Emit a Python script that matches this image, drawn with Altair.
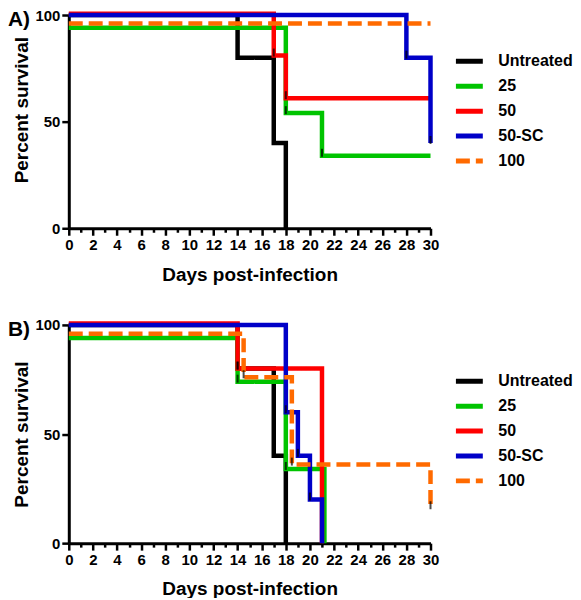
import altair as alt
import pandas as pd

groups = ["Untreated", "25", "50", "50-SC", "100"]
colors = ["#000000", "#00c400", "#ff0000", "#0000c8", "#ff6a00"]
dashes = [[1, 0], [1, 0], [1, 0], [1, 0], [14, 6]]

# Panel A) survival steps (day of change, percent survival after change)
a_untreated_day = [0, 14, 17, 18]
a_untreated_pct = [100, 80, 40, 0]
a_25_day = [0, 18, 21, 30]
a_25_pct = [94, 54, 34, 34]
a_50_day = [0, 17, 18, 30]
a_50_pct = [100.6, 81, 61, 61]
a_50sc_day = [0, 28, 30]
a_50sc_pct = [100, 80, 40]
a_100_day = [0, 30]
a_100_pct = [96, 96]

# Panel B)
b_untreated_day = [0, 14, 17, 18]
b_untreated_pct = [100, 80, 40, 0]
b_25_day = [0, 14, 18, 21.2]
b_25_pct = [94, 74, 34, 0]
b_50_day = [0, 14, 21]
b_50_pct = [100.6, 80, 0]
b_50sc_day = [0, 18, 19, 20, 21]
b_50sc_pct = [100, 60, 40, 20, 0]
b_100_day = [0, 14.5, 18.5, 30]
b_100_pct = [96, 76, 36, 16]

x_ticks = list(range(0, 31))
y_ticks = [0, 50, 100]

series = {
    "A": [("Untreated", a_untreated_day, a_untreated_pct), ("25", a_25_day, a_25_pct),
          ("50", a_50_day, a_50_pct), ("50-SC", a_50sc_day, a_50sc_pct), ("100", a_100_day, a_100_pct)],
    "B": [("Untreated", b_untreated_day, b_untreated_pct), ("25", b_25_day, b_25_pct),
          ("50", b_50_day, b_50_pct), ("50-SC", b_50sc_day, b_50sc_pct), ("100", b_100_day, b_100_pct)],
}

rows = []
for panel, lst in series.items():
    for g, days, pcts in lst:
        for i, (d, p) in enumerate(zip(days, pcts)):
            censor = i > 0 and p < pcts[i - 1] and p > 0
            rows.append({"panel": panel, "group": g, "day": d, "pct": p, "censor": censor})
df = pd.DataFrame(rows)

FONT = "Liberation Sans"


def make_panel(panel, label, height, legend_y, title_y=None):
    d = df[df.panel == panel]
    legend = alt.Legend(
        orient="none", legendX=386, legendY=legend_y, title=None,
        symbolType="stroke", symbolSize=729, symbolStrokeWidth=5,
        labelFontSize=16, labelFontWeight="bold", labelColor="black", labelFont=FONT,
        labelOffset=13, rowPadding=0, clipHeight=25,
    )
    color = alt.Color("group:N", scale=alt.Scale(domain=groups, range=colors), legend=legend)
    dash = alt.StrokeDash("group:N", scale=alt.Scale(domain=groups, range=dashes), legend=legend)
    x = alt.X(
        "day:Q", scale=alt.Scale(domain=[0, 30], nice=False),
        axis=alt.Axis(
            values=x_ticks,
            labelExpr="datum.value % 2 == 0 ? datum.label : ''",
            tickSize={"condition": {"test": "datum.value % 2 == 0", "value": 7}, "value": 4},
            tickWidth=2.5, tickColor="black", domainWidth=3, domainColor="black",
            labelFontSize=15, labelFontWeight="bold", labelColor="black", labelPadding=2,
            labelOverlap=False, labelFlush=False, labelBound=False, grid=False,
            title="Days post-infection", titleFontSize=19, titleFontWeight="bold",
            titleColor="black", titlePadding=13,
        ),
    )
    yaxis_kwargs = dict(
        values=y_ticks, tickSize=7, tickWidth=2.5, tickColor="black",
        domainWidth=3, domainColor="black",
        labelFontSize=15, labelFontWeight="bold", labelColor="black", labelPadding=2,
        labelOverlap=False, grid=False, title="Percent survival", titleFontSize=19,
        titleFontWeight="bold", titleColor="black", titlePadding=3,
    )
    if title_y is not None:
        yaxis_kwargs["titleY"] = title_y
    y = alt.Y("pct:Q", scale=alt.Scale(domain=[0, 100], nice=False), axis=alt.Axis(**yaxis_kwargs))

    layers = []
    for g in groups:
        layers.append(
            alt.Chart(d).transform_filter(alt.datum.group == g)
            .mark_line(interpolate="step-after", strokeWidth=4.5)
            .encode(x=x, y=y, color=color, strokeDash=dash)
        )
    ticks = (
        alt.Chart(d).transform_filter("datum.censor")
        .mark_tick(orient="vertical", size=8, thickness=2, color="black", yOffset=-3)
        .encode(x=x, y=y)
    )
    text = (
        alt.Chart(pd.DataFrame({"t": [label]}))
        .mark_text(align="left", baseline="alphabetic", fontSize=21, fontWeight="bold",
                   color="black", font=FONT)
        .encode(x=alt.value(-61), y=alt.value(11), text="t:N")
    )
    return alt.layer(*layers, ticks, text).properties(width=363, height=height)


pa = make_panel("A", "A)", height=214, legend_y=34, title_y=95)
pb = make_panel("B", "B)", height=219, legend_y=44)

chart = (
    alt.vconcat(pa, pb, spacing=30)
    .resolve_scale(color="independent", strokeDash="independent")
    .resolve_legend(color="independent", strokeDash="independent")
    .properties(padding={"left": 0, "top": -5, "right": 0, "bottom": -2})
    .configure(font=FONT)
    .configure_axis(labelOverlap=False)
    .configure_view(stroke=None)
)

chart.save("out.html", embed_options={"renderer": "svg", "actions": False})
